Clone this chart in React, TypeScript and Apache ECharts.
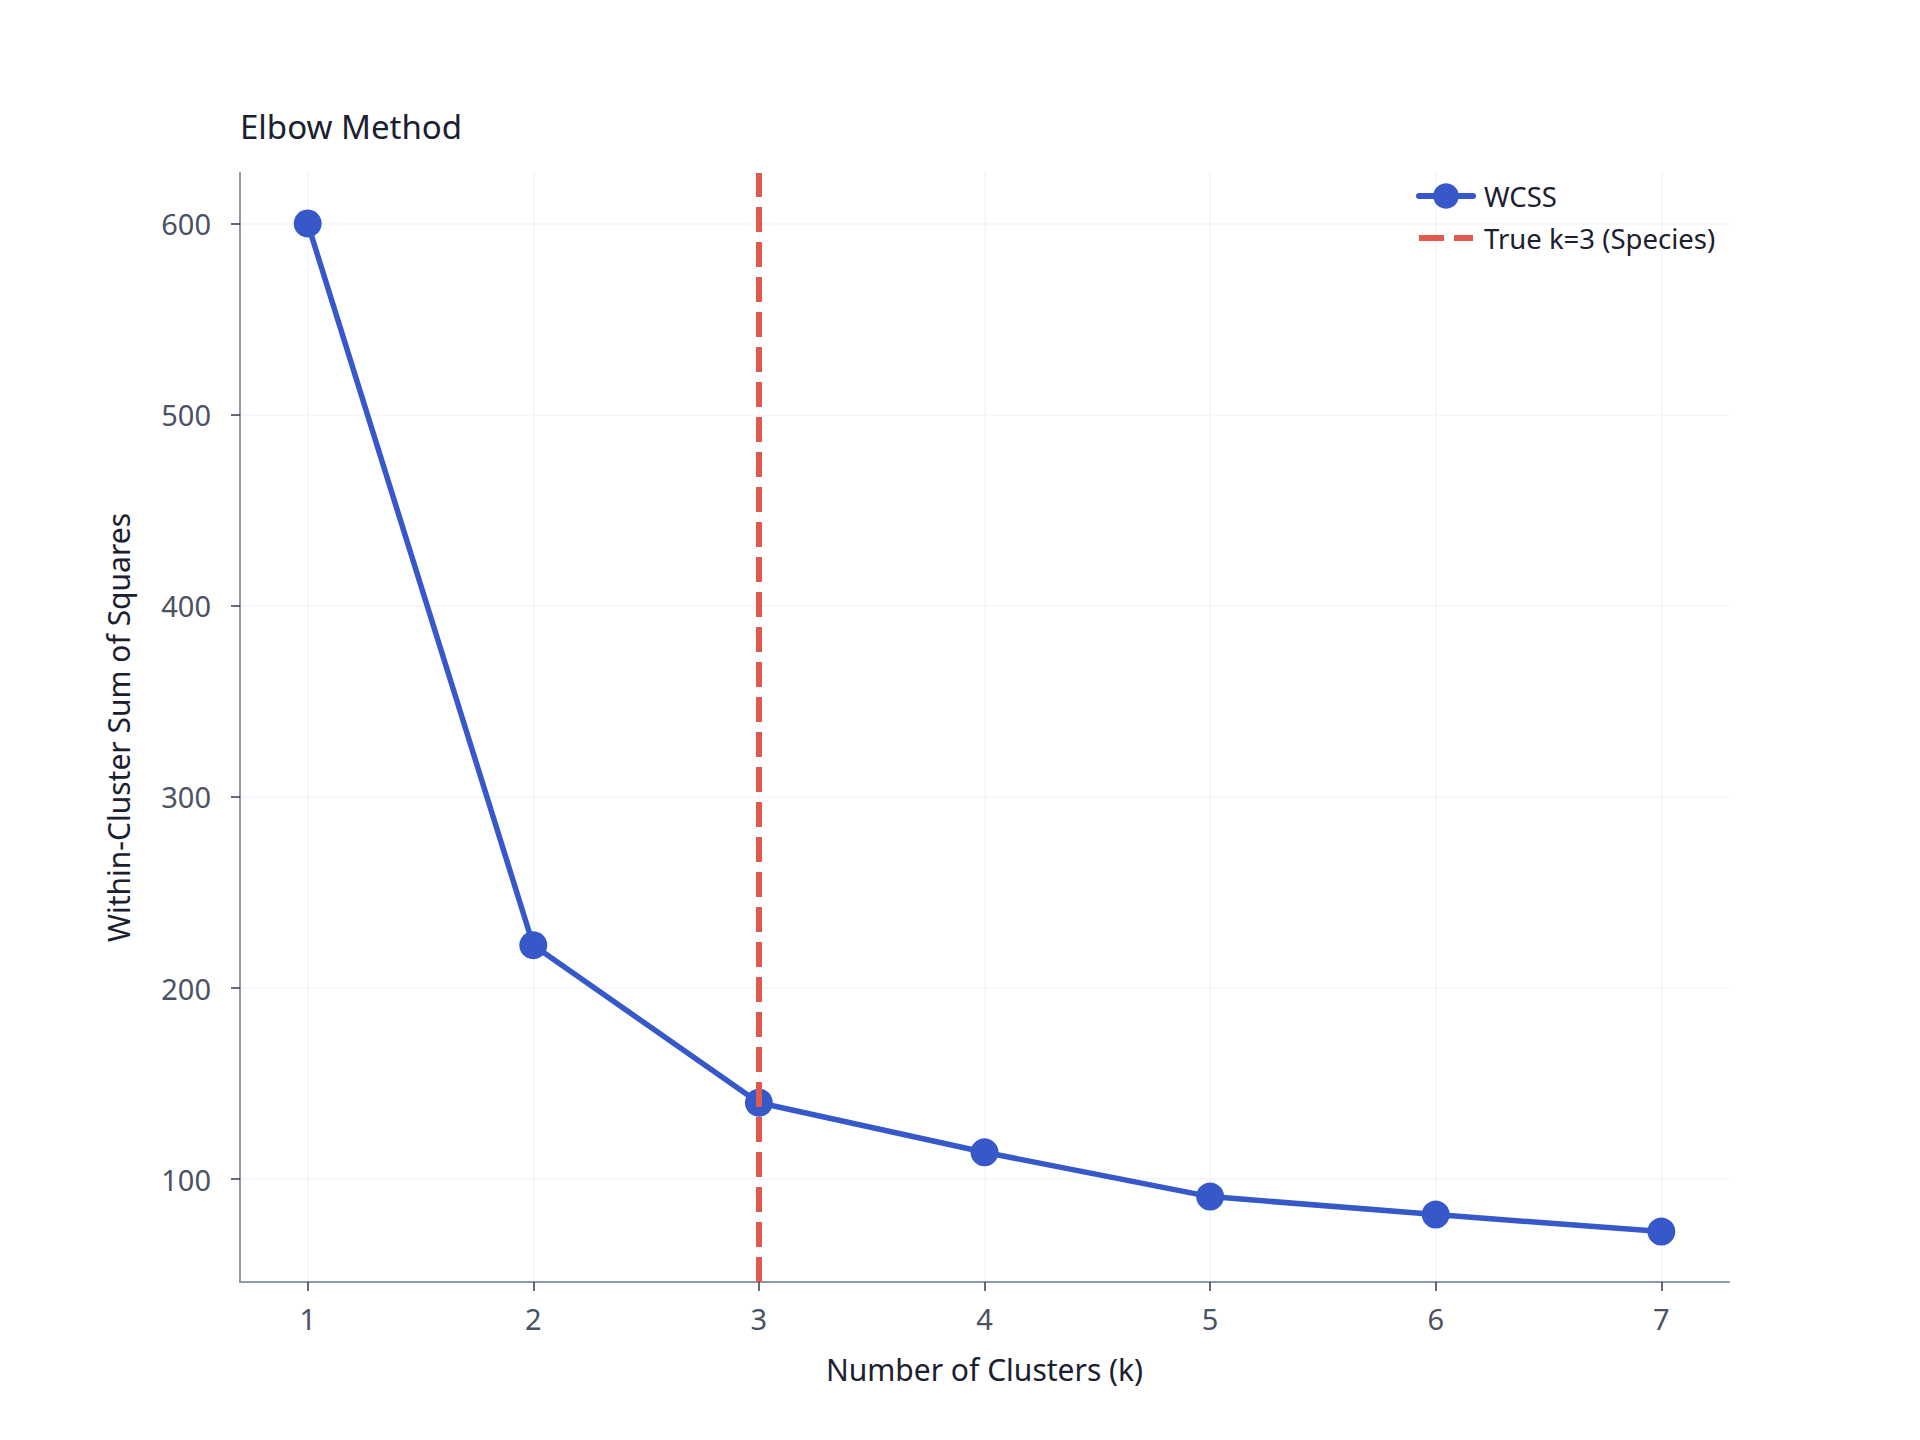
import React, { useEffect, useRef } from "react";
import * as echarts from "echarts";

// Elbow curve for k-means on the iris data
const clusterCounts = [1, 2, 3, 4, 5, 6, 7];
const wcssValues = [600.0, 222.4, 140.0, 114.1, 90.9, 81.5, 72.6];
const trueK = 3;
const yTicks = [100, 200, 300, 400, 500, 600];

const BLUE = "#3658c9";
const RED = "#df5a4e";
const DASH = [25, 10];
const FONT = "'Noto Sans', 'DejaVu Sans', sans-serif";

export default function App() {
  const chartRef = useRef<HTMLDivElement>(null);

  useEffect(() => {
    document.body.style.margin = "0";
    if (!chartRef.current) return;
    const chart = echarts.init(chartRef.current, undefined, { renderer: "svg" });

    // matplotlib-like 5% margins around the data
    const xPad = (clusterCounts[clusterCounts.length - 1] - clusterCounts[0]) * 0.05;
    const yMin = Math.min(...wcssValues);
    const yMax = Math.max(...wcssValues);
    const yPad = (yMax - yMin) * 0.05;

    chart.setOption({
      animation: false,
      backgroundColor: "#ffffff",
      textStyle: { fontFamily: FONT },
      title: {
        text: "Elbow Method",
        left: 235,
        top: 105,
        textStyle: { fontSize: 33, fontWeight: "normal", color: "#1b2030", fontFamily: FONT },
      },
      legend: {
        orient: "vertical",
        left: 1411,
        top: 177,
        itemWidth: 54,
        itemHeight: 32,
        itemGap: 14,
        textStyle: { fontSize: 27.5, color: "#1b2030", fontFamily: FONT, padding: [0, 0, 0, 6] },
        data: [
          {
            name: "WCSS",
            lineStyle: { width: 6, color: BLUE, cap: "round" },
          },
          {
            name: "True k=3 (Species)",
            itemStyle: { opacity: 0 },
            lineStyle: { width: 6, color: RED, type: DASH },
          },
        ],
      },
      grid: { left: 240, right: 191, top: 173, bottom: 158 },
      xAxis: {
        type: "value",
        min: clusterCounts[0] - xPad,
        max: clusterCounts[clusterCounts.length - 1] + xPad,
        name: "Number of Clusters (k)",
        nameLocation: "middle",
        nameGap: 72,
        nameTextStyle: { fontSize: 30, color: "#1b2030", fontFamily: FONT },
        axisLine: { show: true, lineStyle: { color: "#8e99ab", width: 2 } },
        axisTick: {
          show: true,
          length: 9,
          lineStyle: { color: "#333a47", width: 1.5 },
          customValues: clusterCounts,
        },
        axisLabel: {
          fontSize: 29,
          color: "#4a5263",
          margin: 22,
          fontFamily: FONT,
          customValues: clusterCounts,
        },
        splitLine: { show: true, lineStyle: { color: "#f2f5f8", width: 1.5 } },
      },
      yAxis: {
        type: "value",
        min: yMin - yPad,
        max: yMax + yPad,
        name: "Within-Cluster Sum of Squares",
        nameLocation: "middle",
        nameGap: 107,
        nameTextStyle: { fontSize: 30, color: "#1b2030", fontFamily: FONT },
        axisLine: { show: true, lineStyle: { color: "#8e99ab", width: 2 } },
        axisTick: {
          show: true,
          length: 9,
          lineStyle: { color: "#333a47", width: 1.5 },
          customValues: yTicks,
        },
        axisLabel: {
          fontSize: 29,
          color: "#4a5263",
          margin: 29,
          fontFamily: FONT,
          customValues: yTicks,
        },
        splitLine: { show: true, lineStyle: { color: "#f2f5f8", width: 1.5 } },
      },
      series: [
        {
          name: "WCSS",
          type: "line",
          data: clusterCounts.map((k, i) => [k, wcssValues[i]]),
          symbol: "circle",
          symbolSize: 28,
          lineStyle: { color: BLUE, width: 5.5 },
          itemStyle: { color: BLUE },
          z: 3,
        },
        {
          name: "True k=3 (Species)",
          type: "line",
          data: [],
          symbol: "none",
          lineStyle: { color: RED, width: 6, type: DASH },
          itemStyle: { color: RED },
          markLine: {
            silent: true,
            symbol: "none",
            label: { show: false },
            lineStyle: { color: RED, width: 6, type: DASH },
            data: [{ xAxis: trueK }],
          },
          z: 2,
        },
      ],
    });

    return () => chart.dispose();
  }, []);

  return <div ref={chartRef} style={{ width: 1920, height: 1440 }} />;
}
